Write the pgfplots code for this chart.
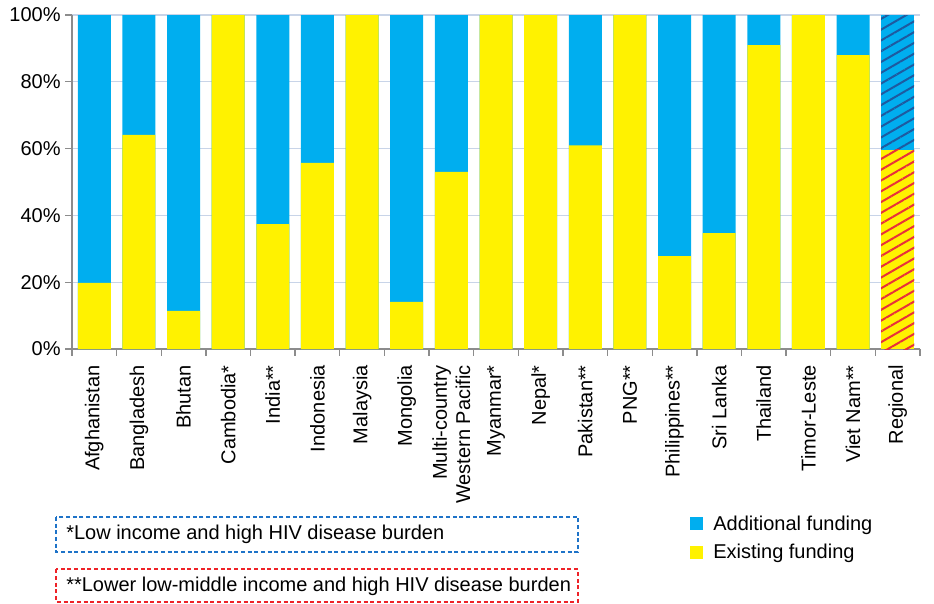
\documentclass[border=0pt]{standalone}
\usepackage{fontspec}
\setmainfont{Liberation Sans}
\usepackage{pgfplots}
\pgfplotsset{compat=1.18}
\usetikzlibrary{patterns.meta}
\definecolor{addblue}{RGB}{0,174,239}
\definecolor{exyellow}{RGB}{255,242,0}
\definecolor{hatchblue}{RGB}{30,90,160}
\definecolor{hatchred}{RGB}{232,48,58}
\definecolor{gridc}{RGB}{200,212,232}
\definecolor{axisc}{RGB}{140,140,140}
\definecolor{boxblue}{RGB}{30,115,200}
\definecolor{boxred}{RGB}{238,34,40}
\newcommand{\fs}{\fontsize{15}{17.5}\selectfont}
\begin{document}
\begin{tikzpicture}
\path[use as bounding box] (0,0) rectangle (700.5pt,-452.25pt);
\begin{axis}[
  at={(54pt,-261.75pt)}, anchor=south west,
  scale only axis, width=636pt, height=250.5pt,
  ybar, bar width=24.75pt,
  xmin=-0.5, xmax=18.5, ymin=0, ymax=100,
  xtick={0,...,18},
  xticklabels={Afghanistan,Bangladesh,Bhutan,Cambodia*,India**,Indonesia,Malaysia,Mongolia,{Multi-country\\Western Pacific},Myanmar*,Nepal*,Pakistan**,PNG**,Philippines**,Sri Lanka,Thailand,Timor-Leste,Viet Nam**,Regional},
  major x tick style={draw=none},
  minor xtick={-0.5,0.5,...,18.5},
  minor tick length=5pt,
  minor x tick style={draw=axisc, line width=1pt},
  tick label style={font=\fs},
  xticklabel style={rotate=90, anchor=east, align=right, inner sep=1pt, xshift=-6pt},
  ytick={0,20,...,100},
  yticklabel={\fs\pgfmathprintnumber{\tick}\%},
  /pgf/number format/assume math mode=true,
  tick align=outside, major tick length=5pt,
  y tick style={draw=axisc, line width=1pt},
  xtick pos=bottom, ytick pos=left,
  ymajorgrids, major grid style={gridc, line width=0.8pt},
  axis x line*=bottom, axis y line*=left,
  axis line style={axisc, line width=1.2pt},
  legend style={at={(0.728,-0.49)}, anchor=north west, draw=none, font=\fs, fill=none,
    row sep=5pt, column sep=6pt, inner sep=0pt},
  legend image code/.code={\fill[#1] (0pt,-4.9pt) rectangle (9.8pt,4.9pt);},
  legend cell align=left,
]
\addplot[fill=addblue, draw=none, bar shift=0pt] coordinates {
(0,100) (1,100) (2,100) (3,100) (4,100) (5,100) (6,100) (7,100) (8,100) (9,100)
(10,100) (11,100) (12,100) (13,100) (14,100) (15,100) (16,100) (17,100)};
\addlegendentry{Additional funding}
\addplot[fill=exyellow, draw=none, bar shift=0pt] coordinates {
(0,19.8) (1,64.1) (2,11.4) (3,100) (4,37.4) (5,55.7) (6,100) (7,14.1) (8,53.0)
(9,100) (10,100) (11,61.0) (12,100) (13,27.8) (14,34.7) (15,91.0) (16,100) (17,88.0)};
\addlegendentry{Existing funding}
\addplot[fill=addblue, draw=none, bar shift=0pt, forget plot,
  postaction={pattern={Lines[angle=30,distance=7pt,line width=1.5pt]}, pattern color=hatchblue}]
  coordinates {(18,100)};
\addplot[fill=exyellow, draw=none, bar shift=0pt, forget plot,
  postaction={pattern={Lines[angle=30,distance=7pt,line width=1.5pt]}, pattern color=hatchred}]
  coordinates {(18,59.6)};
\end{axis}
\draw[boxblue, line width=1.6pt, dash pattern=on 3pt off 2pt] (42pt,-387.75pt) rectangle (433.5pt,-414pt);
\node[anchor=west, inner sep=0pt, font=\fs] at (49.5pt,-401pt) {*Low income and high HIV disease burden};
\draw[boxred, line width=1.6pt, dash pattern=on 3pt off 2pt] (42pt,-427pt) rectangle (433.5pt,-451.2pt);
\node[anchor=west, inner sep=0pt, font=\fs] at (49.5pt,-439.5pt) {**Lower low-middle income and high HIV disease burden};
\end{tikzpicture}
\end{document}
